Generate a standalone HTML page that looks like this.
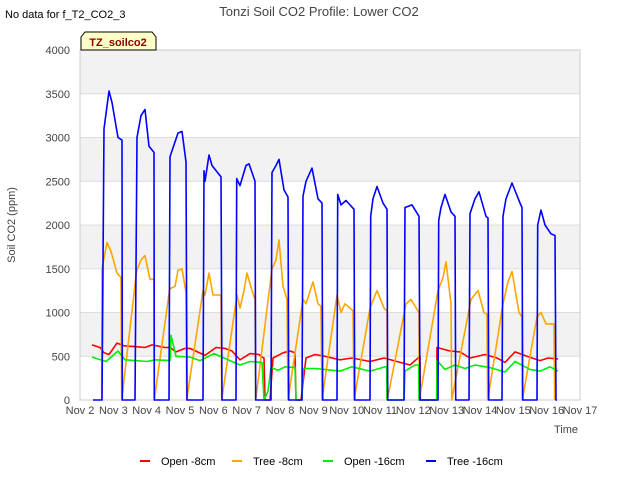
<!DOCTYPE html>
<html><head><meta charset="utf-8"><style>
body{margin:0;background:#fff;font-family:"Liberation Sans",sans-serif;}
svg text{font-family:"Liberation Sans",sans-serif;}
</style></head><body>
<svg id="chart" width="640" height="480" xmlns="http://www.w3.org/2000/svg">
<text x="5" y="18" font-size="11" fill="#000">No data for f_T2_CO2_3</text>
<text x="319" y="16" font-size="13" fill="#444" text-anchor="middle">Tonzi Soil CO2 Profile: Lower CO2</text>
<g id="bands"></g>
<g id="grid"></g>
<rect x="80" y="50" width="500" height="350" fill="none" stroke="#ccc"/>
<g id="yticks"></g>
<g id="xticks"></g>
<g id="series"></g>
<text x="15" y="225" font-size="11" fill="#444" text-anchor="middle" transform="rotate(-90 15 225)">Soil CO2 (ppm)</text>
<text x="566" y="433" font-size="11" fill="#444" text-anchor="middle">Time</text>
<g>
<path d="M81,50 L81,37 L85,32 L152,32 L156,37 L156,50 Z" fill="#ffffc8" stroke="#000" stroke-width="1"/>
<text x="118" y="46" font-size="11" font-weight="bold" fill="#8b0000" text-anchor="middle">TZ_soilco2</text>
</g>
<g id="legend"></g>
</svg>
<script>
const yTicks=[0,500,1000,1500,2000,2500,3000,3500,4000];
const xTickLabels=["Nov 2","Nov 3","Nov 4","Nov 5","Nov 6","Nov 7","Nov 8","Nov 9","Nov 10","Nov 11","Nov 12","Nov 13","Nov 14","Nov 15","Nov 16","Nov 17"];
const seriesNames=["Open -8cm","Tree -8cm","Open -16cm","Tree -16cm"];
const seriesColors=["#ff0000","#ffa500","#00ee00","#0000ff"];
// times in days since Nov 2
const blueT=[0.39,0.66,0.72,0.87,0.96,1.14,1.26,1.27,1.65,1.71,1.83,1.95,2.07,2.22,2.23,2.67,2.70,2.85,2.94,3.06,3.18,3.21,3.69,3.72,3.75,3.87,3.96,4.23,4.26,4.68,4.70,4.80,4.98,5.07,5.25,5.27,5.73,5.76,5.88,5.97,6.12,6.24,6.26,6.66,6.69,6.78,6.96,7.14,7.26,7.28,7.71,7.73,7.83,7.98,8.22,8.24,8.70,8.72,8.79,8.91,9.09,9.21,9.23,9.72,9.75,9.96,10.17,10.20,10.74,10.76,10.83,10.95,11.13,11.25,11.27,11.67,11.70,11.85,11.97,12.18,12.24,12.26,12.66,12.69,12.78,12.96,13.20,13.26,13.28,13.71,13.73,13.83,13.95,14.13,14.25,14.28,14.31];
const blueV=[0,0,3100,3530,3400,3000,2970,0,0,3000,3250,3320,2900,2830,0,0,2780,2950,3050,3070,2720,0,0,2620,2500,2800,2680,2550,0,0,2530,2450,2680,2700,2500,0,0,2600,2680,2750,2400,2320,0,0,2330,2500,2650,2300,2250,0,0,2350,2230,2280,2180,0,0,2100,2300,2440,2250,2180,0,0,2200,2230,2100,0,0,2050,2200,2350,2150,2100,0,0,2130,2300,2380,2100,2080,0,0,2100,2300,2480,2250,2200,0,0,2000,2170,2000,1900,1880,0,0];
const orangeT=[0.65,0.66,0.81,0.93,1.11,1.23,1.25,1.70,1.83,1.95,2.10,2.22,2.23,2.69,2.85,2.94,3.06,3.18,3.20,3.69,3.75,3.87,3.99,4.23,4.25,4.71,4.80,4.92,5.01,5.16,5.25,5.27,5.76,5.88,5.97,6.09,6.21,6.24,6.69,6.78,6.99,7.14,7.23,7.26,7.71,7.83,7.95,8.19,8.22,8.70,8.91,9.12,9.21,9.22,9.78,9.93,10.17,10.18,10.74,10.89,10.98,11.13,11.15,11.73,11.94,12.12,12.21,12.23,12.69,12.84,12.96,13.17,13.26,13.27,13.71,13.83,13.98,14.22,14.24];
const orangeV=[0,1500,1800,1700,1450,1400,0,1480,1600,1650,1380,1380,0,1270,1300,1480,1500,1230,0,1250,1200,1450,1200,1200,0,1200,1050,1250,1450,1250,1150,0,1500,1600,1830,1300,1150,0,1150,1100,1350,1100,1070,0,1200,1000,1100,1020,0,1050,1250,1050,1020,0,1100,1150,1000,0,1250,1400,1580,1100,0,1150,1250,1000,980,0,1100,1350,1470,1000,950,0,950,1000,870,870,0];
const redT=[0.36,0.6,0.72,0.87,1.11,1.32,1.65,1.95,2.16,2.55,2.70,2.88,3.15,3.30,3.75,4.08,4.35,4.56,4.80,5.10,5.37,5.46,5.52,5.55,5.70,5.79,6.09,6.30,6.45,6.48,6.63,6.78,7.05,7.35,7.80,8.16,8.70,9.12,9.90,10.20,10.21,10.70,10.71,11.10,11.40,11.70,12.15,12.51,12.75,13.05,13.41,13.80,14.04,14.34];
const redV=[630,600,540,520,650,620,610,600,630,600,600,550,590,590,510,600,590,560,460,530,520,490,480,0,0,480,540,560,540,0,0,480,520,500,460,480,440,480,400,500,0,0,600,560,550,480,520,480,430,550,500,450,480,470];
const greenT=[0.36,0.78,1.14,1.35,2.01,2.25,2.70,2.73,2.88,3.30,3.60,4.02,4.50,4.80,5.10,5.46,5.52,5.64,5.73,5.94,6.15,6.45,6.48,6.66,6.69,7.05,7.80,8.16,8.70,9.15,9.20,9.21,9.72,9.75,10.05,10.16,10.17,10.70,10.71,10.95,11.25,11.55,11.85,12.30,12.75,13.05,13.50,13.80,14.10,14.34];
const greenV=[490,440,560,460,440,460,450,740,500,490,450,530,450,400,440,430,0,100,370,340,380,370,0,0,360,360,330,380,330,380,380,0,0,330,400,400,0,0,450,350,400,360,400,370,320,440,350,330,380,330];

const X0=80,X1=580,Y0=400,Y1=50;
const xs=d=>X0+d*(X1-X0)/15;
const ys=v=>Y0-v*(Y0-Y1)/4000;
const NS="http://www.w3.org/2000/svg";
function mk(tag,attrs,parent){const e=document.createElementNS(NS,tag);for(const k in attrs)e.setAttribute(k,attrs[k]);parent.appendChild(e);return e;}
const bands=document.getElementById('bands'),grid=document.getElementById('grid'),yt=document.getElementById('yticks'),xt=document.getElementById('xticks'),ser=document.getElementById('series'),leg=document.getElementById('legend');
for(let i=1;i<yTicks.length;i+=2){
  const r=mk('rect',{x:X0,y:ys(yTicks[i+1]),width:X1-X0,height:ys(yTicks[i])-ys(yTicks[i+1]),fill:'#f2f2f2'},bands);
  
  
}
yTicks.forEach(v=>{
  const l=mk('line',{x1:X0,x2:X1,y1:ys(v),y2:ys(v),stroke:'#dcdcdc'},grid);
  
  
  const t=mk('text',{x:X0-10,y:ys(v)+4,'font-size':11,fill:'#444','text-anchor':'end'},yt);
  t.textContent=v;
  
  
});
xTickLabels.forEach((s,i)=>{
  const t=mk('text',{x:xs(i),y:414,'font-size':11,fill:'#444','text-anchor':'middle'},xt);
  t.textContent=s;
  
  
});
const data=[[redT,redV],[orangeT,orangeV],[greenT,greenV],[blueT,blueV]];
data.forEach((d,k)=>{
  const pts=d[0].map((t,i)=>xs(t).toFixed(1)+','+ys(d[1][i]).toFixed(1)).join(' ');
  const p=mk('polyline',{points:pts,fill:'none',stroke:seriesColors[k],'stroke-width':1.6,'stroke-linejoin':'round'},ser);
  
  
});
const lx=[140,232,323,426];
seriesNames.forEach((n,k)=>{
  const g=mk('g',{},leg);
  
  
  mk('line',{x1:lx[k],x2:lx[k]+10,y1:461,y2:461,stroke:seriesColors[k],'stroke-width':2},g);
  const t=mk('text',{x:lx[k]+5+16,y:465,'font-size':11,fill:'#000'},g);
  t.textContent=n;
});
</script>
</body></html>
